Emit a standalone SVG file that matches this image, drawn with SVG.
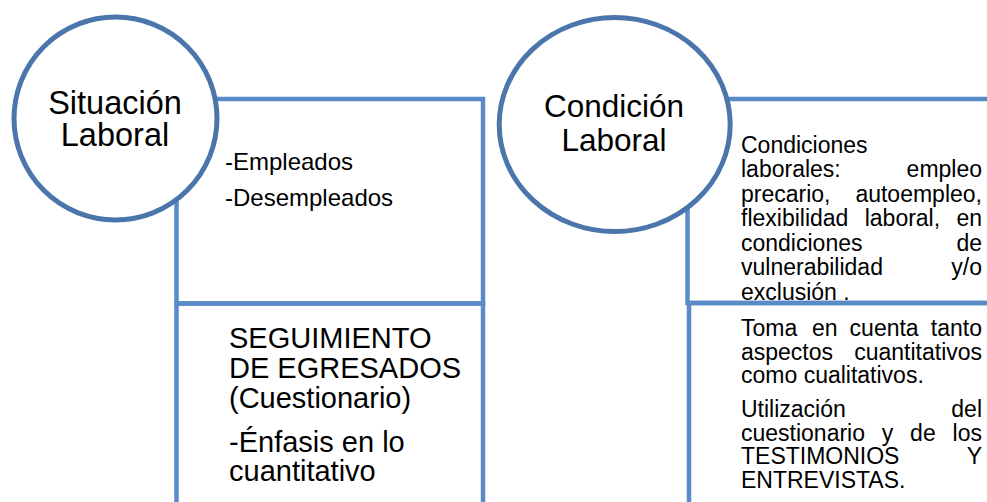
<svg xmlns="http://www.w3.org/2000/svg" width="987" height="502" viewBox="0 0 987 502">
<style>
text{font-family:"Liberation Sans",Arial,sans-serif;fill:#000}
.box{fill:none;stroke:#5b8bc6;stroke-width:4.5}
.circ{fill:#fff;stroke:#4a76ab;stroke-width:5}
.title{font-size:32.5px;text-anchor:middle}
.sm{font-size:24px}
.md{font-size:29px}
.rt{font-size:23px}
</style>
<rect width="987" height="502" fill="#fff"/>
<g id="connectors"/>
<g id="situacion-detalle">
<rect class="box" x="176.5" y="99" width="306.5" height="204.5"/>
<text class="sm" x="225" y="170">-Empleados</text>
<text class="sm" x="225" y="206">-Desempleados</text>
</g>
<g id="condicion-detalle">
<text class="rt"><tspan x="741" y="152.5">Condiciones</tspan><tspan x="741" y="177">laborales:</tspan><tspan x="906.6" y="177">empleo</tspan><tspan x="741" y="201.5">precario,</tspan><tspan x="855.4" y="201.5">autoempleo,</tspan><tspan x="741" y="226">flexibilidad</tspan><tspan x="864.7" y="226">laboral,</tspan><tspan x="956.4" y="226">en</tspan><tspan x="741" y="250.5">condiciones</tspan><tspan x="956.4" y="250.5">de</tspan><tspan x="741" y="275">vulnerabilidad</tspan><tspan x="951.3" y="275">y/o</tspan><tspan x="741" y="299.5">exclusión .</tspan></text>
<rect class="box" x="687.5" y="99" width="320" height="204"/>
</g>
<g id="seguimiento">
<rect class="box" x="176.5" y="303.5" width="306.5" height="220"/>
<text class="md"><tspan x="229" y="348">SEGUIMIENTO</tspan><tspan x="229" y="378">DE EGRESADOS</tspan><tspan x="229" y="408">(Cuestionario)</tspan><tspan x="229" y="452">-Énfasis en lo</tspan><tspan x="229" y="481">cuantitativo</tspan></text>
</g>
<g id="testimonios">
<rect class="box" x="689" y="303" width="320" height="220"/>
<text class="rt"><tspan x="741" y="336">Toma</tspan><tspan x="811.9" y="336">en</tspan><tspan x="849.6" y="336">cuenta</tspan><tspan x="930.8" y="336">tanto</tspan><tspan x="741" y="359.5">aspectos</tspan><tspan x="854.2" y="359.5">cuantitativos</tspan><tspan x="741" y="383">como cualitativos.</tspan><tspan x="741" y="417">Utilización</tspan><tspan x="951.3" y="417">del</tspan><tspan x="741" y="440.5">cuestionario</tspan><tspan x="881.8" y="440.5">y</tspan><tspan x="910.1" y="440.5">de</tspan><tspan x="952.6" y="440.5">los</tspan><tspan x="741" y="464">TESTIMONIOS</tspan><tspan x="966.7" y="464">Y</tspan><tspan x="741" y="487.5">ENTREVISTAS.</tspan></text>
</g>
<g id="situacion">
<circle class="circ" cx="115.5" cy="118.5" r="101.5"/>
<text class="title"><tspan x="115" y="113.5">Situación</tspan><tspan x="115" y="146">Laboral</tspan></text>
</g>
<g id="condicion">
<ellipse class="circ" cx="614.7" cy="124.5" rx="115.5" ry="107"/>
<text class="title" style="font-size:31.5px"><tspan x="614" y="117">Condición</tspan><tspan x="614" y="151">Laboral</tspan></text>
</g>
</svg>
